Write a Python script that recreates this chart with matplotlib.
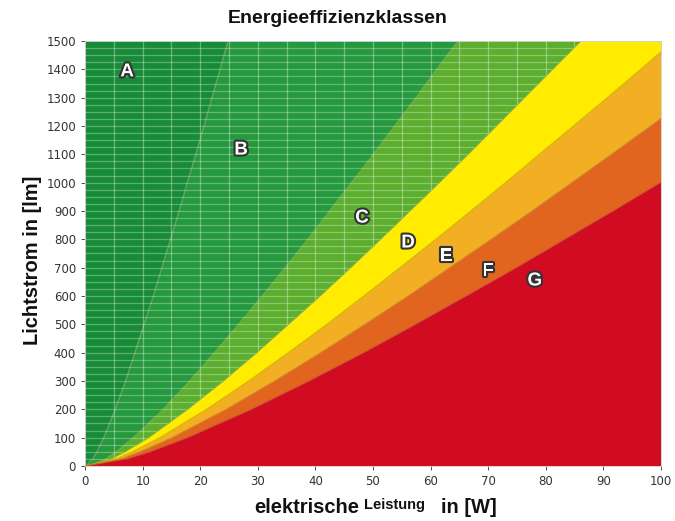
import matplotlib
matplotlib.use("Agg")
import matplotlib.pyplot as plt
import matplotlib.patheffects as pe
from matplotlib.patches import Polygon

lumen = [0, 25, 50, 100, 200, 300, 400, 500, 600, 700, 800, 900, 1000,
         1100, 1200, 1300, 1400, 1500]
grenze_ab = [0, 1.3, 2.0, 3.2, 5.2, 7.0, 8.6, 10.2, 11.8, 13.3, 14.8, 16.3,
             17.7, 19.2, 20.6, 22.0, 23.4, 24.8]
grenze_bc = [0, 3.4, 5.2, 8.2, 13.4, 18.0, 22.3, 26.5, 30.6, 34.6, 38.5,
             42.3, 46.1, 49.9, 53.6, 57.3, 60.9, 64.6]
grenze_cd = [0, 4.5, 6.9, 11.0, 17.8, 24.0, 29.8, 35.3, 40.8, 46.1, 51.3,
             56.4, 61.5, 66.5, 71.4, 76.3, 81.2, 86.1]
grenze_de = [0, 5.3, 8.2, 13.0, 21.1, 28.4, 35.3, 42.0, 48.4, 54.7, 60.9,
             67.0, 73.0, 78.9, 84.8, 90.7, 96.5, 102.2]
grenze_ef = [0, 6.2, 9.5, 15.1, 24.5, 32.9, 40.9, 48.6, 56.1, 63.3, 70.5,
             77.6, 84.5, 91.4, 98.2, 105.0, 111.7, 118.3]
grenze_fg = [0, 7.3, 11.3, 17.8, 28.9, 38.9, 48.4, 57.4, 66.2, 74.9, 83.3,
             91.7, 99.9, 108.0, 116.1, 124.1, 132.0, 139.9]

klassen = ["A", "B", "C", "D", "E", "F", "G"]
farben = ["#178b37", "#25993d", "#5cae2f", "#ffec00", "#f2af24", "#e1651f", "#d10c22"]
label_x = [7.3, 27.1, 48.1, 56.1, 62.7, 70.0, 78.1]
label_y = [1391, 1115, 875, 787, 738, 688, 653]

fig = plt.figure(figsize=(6.75, 5.21), dpi=100)
ax = fig.add_axes([0.126, 0.1056, 0.853, 0.8157])

plt.rcParams['font.family'] = ['Liberation Sans', 'DejaVu Sans']

grenzen = [[0] * len(lumen), grenze_ab, grenze_bc, grenze_cd, grenze_de,
           grenze_ef, grenze_fg, [200] * len(lumen)]
for i in range(7):
    ax.fill_betweenx(lumen, grenzen[i], grenzen[i + 1], color=farben[i],
                     linewidth=0, zorder=1)

# feine Grenzlinien
linienfarben = ["#6fa060", "#4f9a3a", "#8fb030", "#c9b400", "#c98a20", "#c0502a"]
for g, c in zip(grenzen[1:7], linienfarben):
    ax.plot(g, lumen, color=c, lw=0.8, alpha=0.8, zorder=2)

# Raster nur im gruenen Bereich
gruen = Polygon(list(zip([0] + grenze_cd + [0], [0] + lumen + [1500])),
                closed=True, transform=ax.transData, facecolor="none", edgecolor="none")
ax.add_patch(gruen)
for x in range(5, 100, 5):
    l, = ax.plot([x, x], [0, 1500], color="white", lw=0.9, alpha=0.35, zorder=3)
    l.set_clip_path(gruen)
for y in range(25, 1500, 25):
    l, = ax.plot([0, 100], [y, y], color="white", lw=0.9, alpha=0.3, zorder=3)
    l.set_clip_path(gruen)

for k, x, y in zip(klassen, label_x, label_y):
    ax.text(x, y, k, color="white", fontsize=13.5, fontweight="bold",
            ha="center", va="center", zorder=5,
            path_effects=[pe.withStroke(linewidth=3, foreground="#333333")])

ax.set_xlim(0, 100)
ax.set_ylim(0, 1500)
ax.set_xticks(range(0, 101, 10))
ax.set_yticks(range(0, 1501, 100))
ax.tick_params(labelsize=8.5, colors="#333333", length=3, width=0.6)
for s in ax.spines.values():
    s.set_color("#cccccc")
    s.set_linewidth(0.6)

fig.text(0.5, 0.965, "Energieeffizienzklassen", ha="center", va="center",
         fontsize=14, fontweight="bold", color="#111111")
fig.text(0.048, 0.5, "Lichtstrom in [lm]", rotation=90, ha="center", va="center",
         fontsize=14.5, fontweight="bold", color="#111111")
fig.text(0.455, 0.026, "elektrische", ha="center", va="center",
         fontsize=14.5, fontweight="bold", color="#111111")
fig.text(0.585, 0.031, "Leistung", ha="center", va="center",
         fontsize=10.5, fontweight="bold", color="#111111")
fig.text(0.695, 0.026, "in [W]", ha="center", va="center",
         fontsize=14.5, fontweight="bold", color="#111111")

fig.savefig("out.png", dpi=100)
